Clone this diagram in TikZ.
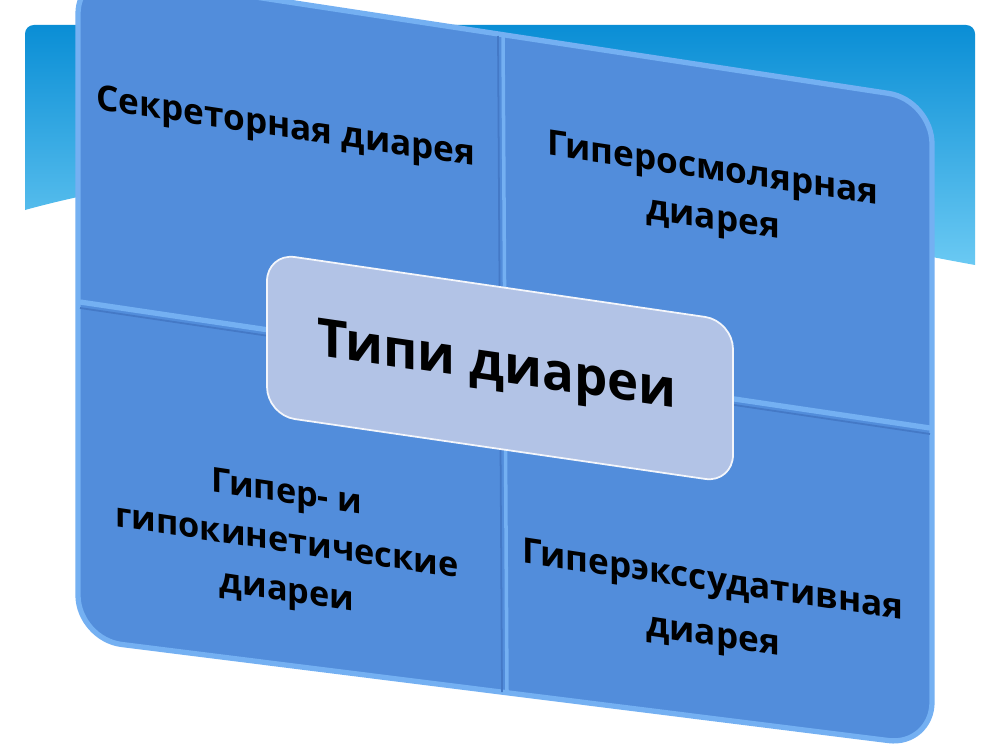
\documentclass[tikz,border=0pt]{standalone}
\usepackage{fontspec}
\setmainfont{Open Sans}
\definecolor{my sky}{HTML}{0A8ED5}
\definecolor{my sky light}{HTML}{6AC9F3}
\definecolor{my blue}{HTML}{528DDB}
\definecolor{my rim}{HTML}{74B0F2}
\definecolor{my shade}{HTML}{4479C6}
\definecolor{my lilac}{HTML}{B2C3E6}

\begin{document}
\begin{tikzpicture}[x=0.02cm, y=-0.02cm,
                quadrant text/.style={font=\bfseries\fontsize{20}{28}\selectfont, align=center, yslant=-0.15, inner sep=0pt},
                title text/.style={font=\bfseries\fontsize{30}{36}\selectfont, yslant=-0.145, inner sep=0pt}]
                \useasboundingbox (0, 0) rectangle (1000, 750);
                \clip (0, 0) rectangle (1000, 750);
                \fill [white] (0, 0) rectangle (1000, 750);
                \shade [top color=my sky, bottom color=my sky light] (25, 210) [rounded corners=5pt] -- (25, 25) -- (975, 25) [sharp corners] -- (975, 265) .. controls (700, 215) and (350, 120) .. (25, 210) -- cycle;
                \fill [my blue, rounded corners=25pt] (78, -30) -- (932, 100) -- (932, 746) -- (78, 639) -- cycle;
                \draw [my rim, line width=3pt, rounded corners=25pt] (78, -30) -- (932, 100) -- (932, 746) -- (78, 639) -- cycle;
                \draw [my shade, line width=1pt] (80, 308) -- (930, 434);
                \draw [my rim, line width=3pt] (80, 302) -- (930, 428);
                \draw [my shade, line width=1pt] (498, 36) -- (502, 692);
                \draw [my rim, line width=2pt] (503, 36) -- (507, 692);
                \fill [my lilac, rounded corners=16pt] (267, 253) -- (733, 321) -- (733, 483) -- (267, 415) -- cycle;
                \draw [white!85!my lilac, line width=1pt, rounded corners=16pt] (267, 253) -- (733, 321) -- (733, 483) -- (267, 415) -- cycle;
                \node (secretory) [quadrant text] at (286, 129) {Секреторная диарея};
                \node (osmolar) [quadrant text] at (713, 196) {Гиперосмолярная\\диарея};
                \node (types) [title text] at (497, 369) {Типи диареи};
                \node (kinetic) [quadrant text, font=\bfseries\fontsize{19.5}{28}\selectfont] at (287, 544) {Гипер- и\\гипокинетические\\диареи};
                \node (exudative) [quadrant text, font=\bfseries\fontsize{20}{31}\selectfont] at (713, 610) {Гиперэкссудативная\\диарея};
            \end{tikzpicture}
\end{document}
